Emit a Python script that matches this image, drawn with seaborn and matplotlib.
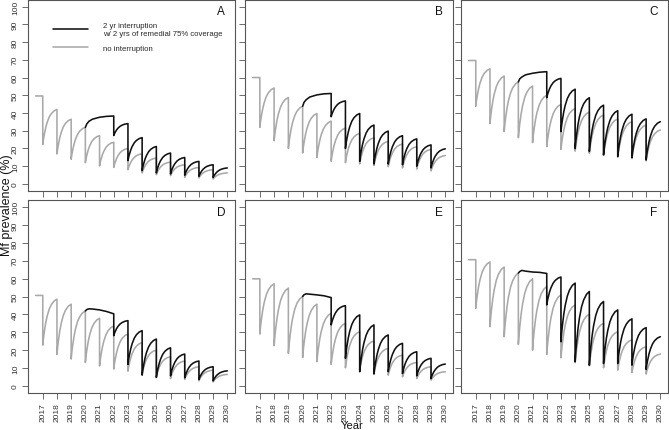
import numpy as np
import pandas as pd
import matplotlib
matplotlib.use("Agg")
import matplotlib.pyplot as plt
import seaborn as sns
from matplotlib.lines import Line2D

# ---------------- data ----------------
panels = ["A", "B", "C", "D", "E", "F"]
tick_years = list(range(2017, 2031))
y_ticks = list(range(0, 101, 10))
start_year = 2016.5
mda_years = list(range(2017, 2030))          # yearly MDA rounds (no interruption)
resumed_years = list(range(2022, 2030))      # MDA rounds after the 2-yr interruption

# shape of the within-year recovery
# (fraction of the way from post-MDA value to next pre-MDA value)
recovery_t = [0.0, 0.05, 0.1, 0.2, 0.3, 0.45, 0.6, 0.8, 1.0]
recovery_f = [0.0, 0.15, 0.27, 0.47, 0.62, 0.78, 0.88, 0.96, 1.0]

baseline = {"A": 49.6, "B": 60.0, "C": 69.6, "D": 50.6, "E": 59.9, "F": 70.6}

# no interruption: post-MDA values 2017..2029
gray_troughs = {
    "A": [22.2, 16.9, 13.9, 12.0, 10.2, 9.3, 8.0, 6.2, 5.2, 4.7, 3.7, 3.4, 2.8],
    "B": [31.9, 24.3, 20.1, 17.4, 14.9, 12.8, 12.0, 11.2, 10.4, 9.7, 9.0, 8.4, 7.3],
    "C": [43.8, 34.1, 29.5, 26.1, 23.3, 21.0, 19.5, 18.5, 17.3, 16.0, 15.0, 14.3, 13.0],
    "D": [22.8, 17.6, 15.0, 13.1, 11.2, 9.4, 8.2, 6.4, 5.1, 4.1, 3.6, 2.8, 2.2],
    "E": [29.0, 22.5, 18.2, 15.9, 13.5, 12.0, 10.1, 8.8, 6.9, 6.0, 5.1, 4.1, 3.2],
    "F": [43.4, 33.1, 27.5, 23.2, 20.0, 17.6, 15.7, 13.1, 11.2, 10.1, 8.8, 7.5, 6.6],
}
# no interruption: pre-MDA values 2018..2029 and final value 2030
gray_peaks = {
    "A": [42.0, 36.5, 31.9, 27.2, 23.5, 20.0, 17.0, 14.6, 12.3, 10.8, 9.3, 8.0, 6.2],
    "B": [54.1, 48.7, 43.8, 39.7, 35.4, 31.5, 28.5, 26.0, 24.0, 22.5, 21.0, 19.5, 16.0],
    "C": [64.9, 60.8, 57.5, 55.2, 50.0, 44.8, 42.5, 40.5, 38.8, 36.6, 35.1, 33.2, 30.4],
    "D": [48.5, 45.7, 41.9, 37.8, 33.5, 29.0, 24.2, 20.0, 16.3, 13.9, 10.7, 8.8, 6.4],
    "E": [57.1, 54.7, 50.0, 45.7, 40.6, 35.0, 30.3, 25.1, 21.0, 17.2, 13.1, 10.7, 7.9],
    "F": [69.3, 66.5, 63.1, 59.9, 55.6, 50.9, 45.3, 40.1, 35.0, 30.3, 25.7, 21.9, 17.8],
}

# 2 yr interruption: course during 2020-2022 (no MDA)
interrupt_t = [2020, 2020.1, 2020.25, 2020.5, 2021, 2021.5, 2022]
black_interrupt = {
    "A": [31.9, 33.8, 35.3, 36.5, 37.6, 38.1, 38.3],
    "B": [43.8, 46.0, 47.5, 49.0, 50.2, 50.8, 51.0],
    "C": [57.5, 59.3, 60.3, 61.5, 62.4, 63.0, 63.3],
    "D": [41.9, 42.7, 43.1, 43.0, 42.5, 41.6, 40.3],
    "E": [50.0, 51.0, 51.5, 51.3, 50.9, 50.4, 49.4],
    "F": [63.1, 64.0, 64.6, 64.2, 63.7, 63.5, 62.9],
}
# 2 yr interruption: post-MDA values 2022..2029
black_troughs = {
    "A": [27.3, 13.1, 7.5, 6.2, 5.6, 4.9, 4.3, 3.6],
    "B": [37.9, 20.0, 12.7, 11.2, 11.2, 10.8, 10.0, 9.0],
    "C": [48.6, 29.5, 20.0, 18.3, 16.4, 15.5, 14.9, 13.5],
    "D": [28.1, 12.0, 6.0, 4.7, 5.6, 4.5, 3.6, 2.8],
    "E": [34.1, 15.4, 7.9, 6.6, 7.9, 6.9, 5.6, 4.1],
    "F": [45.3, 24.7, 13.5, 11.6, 12.5, 12.5, 11.6, 9.2],
}
# 2 yr interruption: pre-MDA values 2023..2029 and final value 2030
black_peaks = {
    "A": [34.0, 26.1, 21.1, 17.4, 14.9, 12.7, 10.8, 9.0],
    "B": [46.8, 39.7, 33.2, 29.8, 27.2, 25.4, 22.0, 19.8],
    "C": [59.5, 53.4, 48.6, 44.4, 41.3, 39.3, 36.7, 35.1],
    "D": [36.5, 30.9, 26.2, 21.3, 17.8, 13.9, 10.7, 8.4],
    "E": [44.9, 39.7, 34.1, 28.5, 23.8, 19.1, 15.4, 12.2],
    "F": [60.9, 57.5, 52.8, 47.2, 42.5, 37.5, 32.6, 27.5],
}

legend_labels = ["2 yr interruption\nw/ 2 yrs of remedial 75% coverage", "no interruption"]
x_label = "Year"
y_label = "Mf prevalence (%)"

GRAY = "#a9a9a9"
BLACK = "#111111"


def sawtooth(years, troughs, peaks):
    xs, ys = [], []
    for yr, lo, hi in zip(years, troughs, peaks):
        for t, f in zip(recovery_t, recovery_f):
            xs.append(yr + t)
            ys.append(lo + f * (hi - lo))
    return xs, ys


# ---------------- figure ----------------
sns.set_style("ticks")
plt.rcParams["font.family"] = ["Liberation Sans", "DejaVu Sans"]

W, H = 669, 431
fig = plt.figure(figsize=(W / 100, H / 100), dpi=100)

cols = [(28, 235), (245, 453), (461, 668)]
rows = [(0.5, 192), (201, 394)]

for i, p in enumerate(panels):
    r, c = divmod(i, 3)
    x0, x1 = cols[c]
    t0, t1 = rows[r]
    ax = fig.add_axes([x0 / W, 1 - t1 / H, (x1 - x0) / W, (t1 - t0) / H])

    gx, gy = sawtooth(mda_years, gray_troughs[p], gray_peaks[p])
    gx = [start_year, 2017] + gx
    gy = [baseline[p], baseline[p]] + gy
    bx, by = sawtooth(resumed_years, black_troughs[p], black_peaks[p])
    bx = interrupt_t + bx
    by = black_interrupt[p] + by

    dg = pd.DataFrame({"year": gx, "prev": gy})
    db = pd.DataFrame({"year": bx, "prev": by})
    sns.lineplot(data=dg, x="year", y="prev", sort=False, estimator=None,
                 color=GRAY, lw=1.15, ax=ax)
    sns.lineplot(data=db, x="year", y="prev", sort=False, estimator=None,
                 color=BLACK, lw=1.15, ax=ax)

    ax.set_xlim(2015.96, 2030.54)
    ax.set_ylim(-4, 104)
    ax.set_xticks(tick_years)
    ax.set_yticks(y_ticks)
    ax.set_xlabel("")
    ax.set_ylabel("")
    for s in ax.spines.values():
        s.set_visible(True)
        s.set_color("#555555")
        s.set_linewidth(0.8)
    ax.tick_params(direction="out", length=4, width=0.6, color="#555555",
                   labelsize=6.0, labelcolor="#333333")
    ax.tick_params(axis="x", pad=2.5)
    ax.tick_params(axis="y", pad=2.5)

    if r == 1:
        ax.set_xticklabels([str(y) for y in tick_years], rotation=90, va="top", ha="center")
    else:
        ax.set_xticklabels([])
    if c == 0:
        ax.set_yticklabels([str(v) for v in y_ticks], rotation=90, va="center", ha="right")
    else:
        ax.set_yticklabels([])

    ax.text(0.932, 0.938, p, transform=ax.transAxes, ha="center", va="center",
            fontsize=8.5, color="#111111")

    if p == "A":
        handles = [Line2D([], [], color=BLACK, lw=1.15), Line2D([], [], color=GRAY, lw=1.15)]
        ax.legend(handles, legend_labels, loc="upper left", bbox_to_anchor=(0.122, 0.885),
                  frameon=False, fontsize=5.55, handlelength=4.5, handletextpad=2.0,
                  labelspacing=1.0, borderaxespad=0, borderpad=0)

fig.text(7 / W, 1 - 205 / H, y_label, rotation=90, ha="center", va="center",
         fontsize=9, color="#111111")
fig.text(352 / W, 1 - 426 / H, x_label, ha="center", va="center",
         fontsize=8, color="#111111")

fig.savefig("out.png", dpi=100)
